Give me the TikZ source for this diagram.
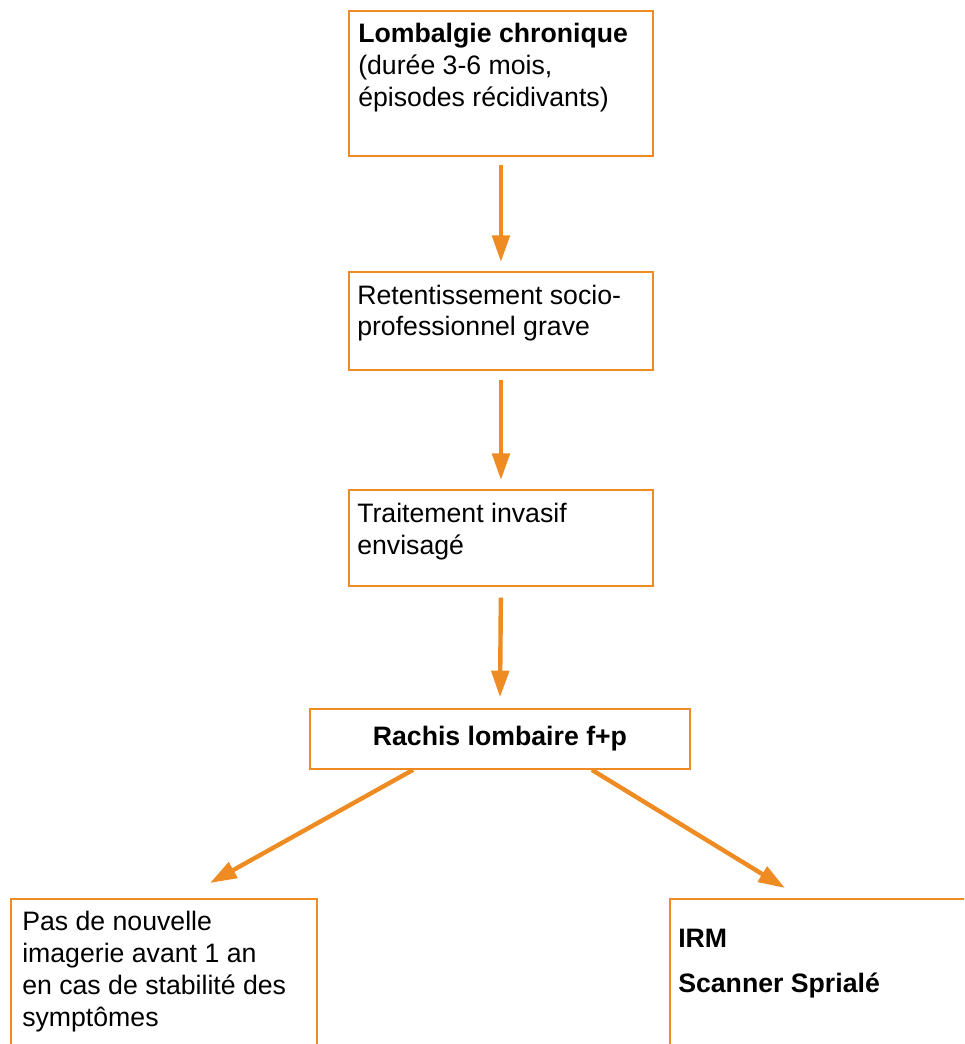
\documentclass[tikz,border=0pt]{standalone}
\usepackage{fontspec}
\setmainfont{Liberation Sans}
\usetikzlibrary{arrows.meta}
\usetikzlibrary{calc}
\definecolor{orangeflux}{RGB}{238,139,34}

\begin{document}
\begin{tikzpicture}[x=0.75pt,y=-0.75pt,
    cadre/.style={draw=orangeflux,line width=1.4pt,inner sep=0pt,anchor=north west,minimum width=#1},
    texte/.style={anchor=base west,inner sep=0pt,align=left,font=\fontsize{20}{24}\selectfont},
    fleche/.style={draw=orangeflux,line width=3.3pt,-{Triangle[width=13pt,length=20pt]}}]
\useasboundingbox (0,0) rectangle (964,1044);
\clip (0,0) rectangle (964,1044);
\node[cadre=228pt,minimum height=108.75pt] (b1) at (348,10) {};
\node[cadre=228pt,minimum height=73.5pt] (b2) at (348,271) {};
\node[cadre=228pt,minimum height=72pt] (b3) at (348,489) {};
\node[cadre=285pt,minimum height=45pt,font=\fontsize{20}{24}\selectfont\bfseries] (b4) at (309,708) {Rachis lombaire f+p};
\node[cadre=229.5pt,minimum height=127.5pt] (b5) at (10,898) {};
\node[cadre=240pt,minimum height=127.5pt] (b6) at (669,898) {};
\node[texte] (t1) at ($(b1.north west)+(10,97)$) {\textbf{Lombalgie chronique}\\(durée 3-6 mois,\\épisodes récidivants)};
\node[texte] (t2) at ($(b2.north west)+(9,65)$) {Retentissement socio-\\professionnel grave};
\node[texte] (t3) at ($(b3.north west)+(9,65)$) {Traitement invasif\\envisagé};
\node[texte] (t5) at ($(b5.north west)+(12,128)$) {Pas de nouvelle\\imagerie avant 1 an\\en cas de stabilité des\\symptômes};
\node[texte,font=\fontsize{20}{24}\selectfont\bfseries] (t6) at ($(b6.north west)+(9,94)$) {IRM\\[9.75pt]Scanner Sprialé};
\coordinate (e5) at (210,883);
\coordinate (e6) at (785,888);
\draw[fleche,shorten <=6pt,shorten >=6.75pt] (b1.south) -- (b2.north);
\draw[fleche,shorten <=6.75pt,shorten >=6.75pt] (b2.south) -- (b3.north);
\draw[fleche,shorten <=8pt,shorten >=8pt] (b3.south) -- (b4.north);
\draw[fleche] ($(b4.south west)+(104,0)$) -- (e5);
\draw[fleche] ($(b4.south east)+(-99,0)$) -- (e6);
\end{tikzpicture}
\end{document}
